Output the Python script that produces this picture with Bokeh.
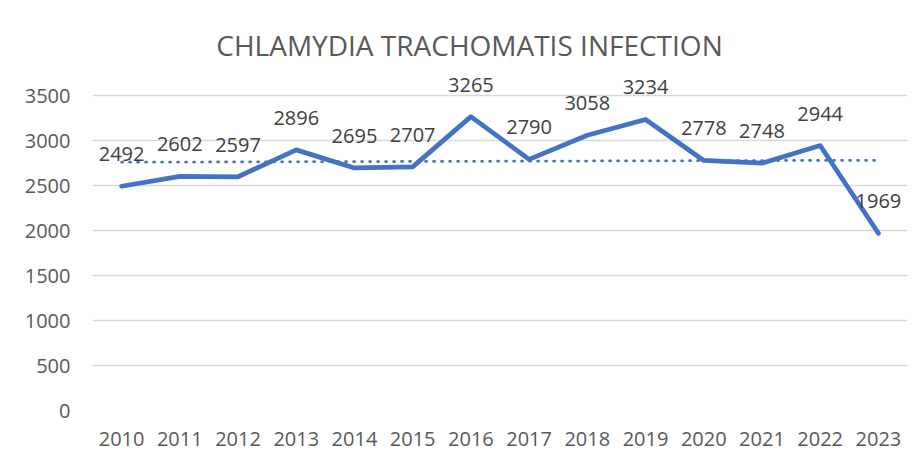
import numpy as np
from bokeh.plotting import figure
from bokeh.models import ColumnDataSource, LabelSet, Label, FixedTicker, FactorRange, Range1d
from bokeh.core.properties import value
from bokeh.embed import file_html
from bokeh.resources import INLINE

title_text = "CHLAMYDIA TRACHOMATIS INFECTION"
years = ["2010", "2011", "2012", "2013", "2014", "2015", "2016",
         "2017", "2018", "2019", "2020", "2021", "2022", "2023"]
cases = [2492, 2602, 2597, 2896, 2695, 2707, 3265,
         2790, 3058, 3234, 2778, 2748, 2944, 1969]
y_ticks = [0, 500, 1000, 1500, 2000, 2500, 3000, 3500]

# linear trendline (as in the spreadsheet chart)
idx = np.arange(len(cases))
coef = np.polyfit(idx, cases, 1)
trend = np.polyval(coef, idx)

src = ColumnDataSource(dict(x=years, y=cases, lbl=[str(v) for v in cases]))

W, H = 908, 454
left, right_b, top_b, bottom_b = 92, 1, 3, 44
frame_h = H - top_b - bottom_b
axis_px = 315.0  # pixels from 0 to 3500
y_max = y_ticks[-1] * frame_h / axis_px

p = figure(width=W, height=H, x_range=FactorRange(*years, range_padding=0),
           y_range=Range1d(0, y_max), output_backend="svg", toolbar_location=None,
           min_border_left=left, min_border_right=right_b,
           min_border_top=top_b, min_border_bottom=bottom_b)
p.outline_line_color = None
p.background_fill_color = "white"
p.border_fill_color = "white"

p.line(x=years, y=list(trend), line_color="#4472C4", line_width=2.75,
       line_dash="1 7", line_cap="round")
p.line(x="x", y="y", source=src, line_color="#4472C4", line_width=4.75,
       line_join="round", line_cap="round")

labels = LabelSet(x="x", y="y", text="lbl", source=src, text_align="center",
                  text_baseline="middle", y_offset=32, text_font=value("Open Sans"),
                  text_font_size=value("20px"), text_color="#404040")
p.add_layout(labels)

title = Label(x=377, y=frame_h - 44 + top_b, x_units="screen", y_units="screen",
              text=title_text, text_align="center", text_baseline="middle",
              text_font="Open Sans", text_font_size="28px", text_color="#595959")
p.add_layout(title)

p.yaxis.ticker = FixedTicker(ticks=y_ticks)
for ax in (p.xaxis[0], p.yaxis[0]):
    ax.axis_line_color = None
    ax.major_tick_line_color = None
    ax.minor_tick_line_color = None
    ax.major_tick_out = 0
    ax.major_tick_in = 0
    ax.major_label_text_font = "Open Sans"
    ax.major_label_text_font_size = "20px"
    ax.major_label_text_color = "#595959"
p.yaxis.major_label_standoff = 22
p.xaxis.major_label_standoff = 21

p.xgrid.grid_line_color = None
p.ygrid.grid_line_color = "#d9d9d9"
p.ygrid.grid_line_width = 1.5

open("out.html", "w").write(file_html(p, INLINE))
